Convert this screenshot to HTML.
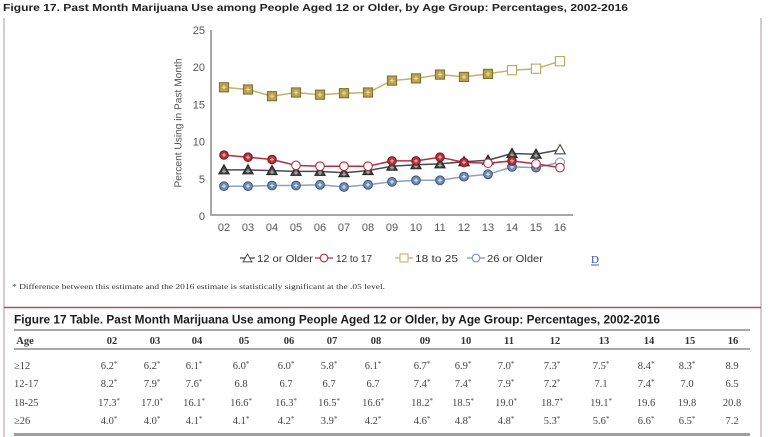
<!DOCTYPE html>
<html><head><meta charset="utf-8"><style>
html,body{margin:0;padding:0;background:#fff;}
svg{display:block;}
.t{font-family:"Liberation Sans",Arial,sans-serif;}
.s{font-family:"Liberation Serif","Times New Roman",serif;}
</style></head><body>
<svg width="768" height="437" viewBox="0 0 768 437" xmlns="http://www.w3.org/2000/svg">
<defs>
<g id="triF"><path d="M0,-5.2L5.2,4L-5.2,4Z" fill="#4a4a4a" stroke="#222" stroke-width="1"/><path d="M-2,1.5H2M0,-0.8V3.5" stroke="#b8b8b8" stroke-width="1"/></g>
<g id="triO"><path d="M0,-5.2L5.2,4L-5.2,4Z" fill="#fff" stroke="#444" stroke-width="1.1"/></g>
<g id="rF"><circle r="4.3" fill="#b3303e" stroke="#7a1822" stroke-width="1"/><path d="M-2,0H2M0,-2V2" stroke="#f0b4b4" stroke-width="1"/></g>
<g id="rO"><circle r="4.3" fill="#fff" stroke="#b3303e" stroke-width="1.1"/></g>
<g id="yF"><rect x="-4.6" y="-4.6" width="9.2" height="9.2" fill="#b9a24e" stroke="#7e6a28" stroke-width="1"/><path d="M-2.2,0H2.2M0,-2.2V2.2" stroke="#e8dca0" stroke-width="1.1"/></g>
<g id="yO"><rect x="-4.6" y="-4.6" width="9.2" height="9.2" fill="#fff" stroke="#b8a660" stroke-width="1.1"/></g>
<g id="bF"><circle r="4.4" fill="#6a88b0" stroke="#3e5a80" stroke-width="1"/><path d="M-2.2,0H2.2M0,-2.2V2.2" stroke="#d4e0f0" stroke-width="1.1"/></g>
<g id="bO"><circle r="4.4" fill="#fff" stroke="#7a94b8" stroke-width="1.1"/></g>
</defs>

<!-- frame -->
<line x1="4" y1="18" x2="4" y2="437" stroke="#c9b9b9" stroke-width="1.5"/>
<line x1="761" y1="18" x2="761" y2="437" stroke="#c9b9b9" stroke-width="1.5"/>
<line x1="4" y1="307.5" x2="761" y2="307.5" stroke="#a05858" stroke-width="1.6"/>

<!-- chart title -->
<text class="t" x="3" y="11" font-size="10.5" font-weight="bold" fill="#222" textLength="625" lengthAdjust="spacingAndGlyphs">Figure 17. Past Month Marijuana Use among People Aged 12 or Older, by Age Group: Percentages, 2002-2016</text>

<!-- axes -->
<line x1="211" y1="30" x2="211" y2="215.5" stroke="#8a8a8a" stroke-width="1.5"/>
<line x1="210.3" y1="215" x2="573" y2="215" stroke="#8a8a8a" stroke-width="1.5"/>
<g class="t" font-size="11" fill="#555" text-anchor="end">
<text x="205" y="34">25</text>
<text x="205" y="71">20</text>
<text x="205" y="108.5">15</text>
<text x="205" y="145.5">10</text>
<text x="205" y="183">5</text>
<text x="205" y="220">0</text>
</g>
<text class="t" font-size="10.5" fill="#555" text-anchor="middle" transform="translate(181.5,123) rotate(-90)" textLength="129" lengthAdjust="spacingAndGlyphs">Percent Using in Past Month</text>
<g class="t" font-size="11" fill="#555" text-anchor="middle">
<text x="224" y="231">02</text><text x="248" y="231">03</text><text x="272" y="231">04</text><text x="296" y="231">05</text><text x="320" y="231">06</text><text x="344" y="231">07</text><text x="368" y="231">08</text><text x="392" y="231">09</text><text x="416" y="231">10</text><text x="440" y="231">11</text><text x="464" y="231">12</text><text x="488" y="231">13</text><text x="512" y="231">14</text><text x="536" y="231">15</text><text x="560" y="231">16</text>
</g>

<!-- series lines -->
<polyline fill="none" stroke="#4a4a4a" stroke-width="1.5" points="224,169.9 248,169.9 272,170.6 296,171.4 320,171.4 344,172.8 368,170.6 392,166.2 416,164.7 440,163.9 464,161.7 488,160.2 512,153.5 536,154.2 560,149.8"/>
<polyline fill="none" stroke="#8aa0c0" stroke-width="1.5" points="224,186.2 248,186.2 272,185.5 296,185.5 320,184.8 344,187.0 368,184.8 392,181.8 416,180.3 440,180.3 464,176.6 488,174.3 512,166.9 536,167.6 560,162.4"/>
<polyline fill="none" stroke="#c4b070" stroke-width="1.5" points="224,87.3 248,89.5 272,96.2 296,92.5 320,94.7 344,93.2 368,92.5 392,80.6 416,78.4 440,74.6 464,76.9 488,73.9 512,70.2 536,68.7 560,61.2"/>
<polyline fill="none" stroke="#b33040" stroke-width="1.5" points="224,155.0 248,157.2 272,159.5 296,165.4 320,166.2 344,166.2 368,166.2 392,160.9 416,160.9 440,157.2 464,162.4 488,163.2 512,160.9 536,163.9 560,167.6"/>

<!-- markers: 12 or older -->
<use href="#triF" x="224" y="169.9"/><use href="#triF" x="248" y="169.9"/><use href="#triF" x="272" y="170.6"/><use href="#triF" x="296" y="171.4"/><use href="#triF" x="320" y="171.4"/><use href="#triF" x="344" y="172.8"/><use href="#triF" x="368" y="170.6"/><use href="#triF" x="392" y="166.2"/><use href="#triF" x="416" y="164.7"/><use href="#triF" x="440" y="163.9"/><use href="#triF" x="464" y="161.7"/><use href="#triF" x="488" y="160.2"/><use href="#triF" x="512" y="153.5"/><use href="#triF" x="536" y="154.2"/><use href="#triO" x="560" y="149.8"/>
<!-- 26 or older -->
<use href="#bF" x="224" y="186.2"/><use href="#bF" x="248" y="186.2"/><use href="#bF" x="272" y="185.5"/><use href="#bF" x="296" y="185.5"/><use href="#bF" x="320" y="184.8"/><use href="#bF" x="344" y="187.0"/><use href="#bF" x="368" y="184.8"/><use href="#bF" x="392" y="181.8"/><use href="#bF" x="416" y="180.3"/><use href="#bF" x="440" y="180.3"/><use href="#bF" x="464" y="176.6"/><use href="#bF" x="488" y="174.3"/><use href="#bF" x="512" y="166.9"/><use href="#bF" x="536" y="167.6"/><use href="#bO" x="560" y="162.4"/>
<!-- 18 to 25 -->
<use href="#yF" x="224" y="87.3"/><use href="#yF" x="248" y="89.5"/><use href="#yF" x="272" y="96.2"/><use href="#yF" x="296" y="92.5"/><use href="#yF" x="320" y="94.7"/><use href="#yF" x="344" y="93.2"/><use href="#yF" x="368" y="92.5"/><use href="#yF" x="392" y="80.6"/><use href="#yF" x="416" y="78.4"/><use href="#yF" x="440" y="74.6"/><use href="#yF" x="464" y="76.9"/><use href="#yF" x="488" y="73.9"/><use href="#yO" x="512" y="70.2"/><use href="#yO" x="536" y="68.7"/><use href="#yO" x="560" y="61.2"/>
<!-- 12 to 17 -->
<use href="#rF" x="224" y="155.0"/><use href="#rF" x="248" y="157.2"/><use href="#rF" x="272" y="159.5"/><use href="#rO" x="296" y="165.4"/><use href="#rO" x="320" y="166.2"/><use href="#rO" x="344" y="166.2"/><use href="#rO" x="368" y="166.2"/><use href="#rF" x="392" y="160.9"/><use href="#rF" x="416" y="160.9"/><use href="#rF" x="440" y="157.2"/><use href="#rF" x="464" y="162.4"/><use href="#rO" x="488" y="163.2"/><use href="#rF" x="512" y="160.9"/><use href="#rO" x="536" y="163.9"/><use href="#rO" x="560" y="167.6"/>

<!-- legend -->
<line x1="240" y1="258" x2="255" y2="258" stroke="#444" stroke-width="1.3"/>
<g transform="translate(247.5,258.5) scale(0.85)"><path d="M0,-5.2L5.2,4L-5.2,4Z" fill="#fff" stroke="#444" stroke-width="1.1"/></g>
<text class="t" x="257" y="262" font-size="10.5" fill="#333" textLength="56" lengthAdjust="spacingAndGlyphs">12 or Older</text>
<line x1="315" y1="258" x2="333" y2="258" stroke="#b33040" stroke-width="1.3"/>
<circle cx="324" cy="258" r="3.8" fill="#fff" stroke="#b33040" stroke-width="1.1"/>
<text class="t" x="336" y="262" font-size="10.5" fill="#333" textLength="36" lengthAdjust="spacingAndGlyphs">12 to 17</text>
<line x1="395" y1="258" x2="413" y2="258" stroke="#c4b070" stroke-width="1.3"/>
<rect x="400" y="254" width="8" height="8" fill="#fff" stroke="#c4b070" stroke-width="1.1"/>
<text class="t" x="415" y="262" font-size="10.5" fill="#333" textLength="43" lengthAdjust="spacingAndGlyphs">18 to 25</text>
<line x1="467" y1="258" x2="485" y2="258" stroke="#7a94b8" stroke-width="1.3"/>
<circle cx="476" cy="258" r="3.8" fill="#fff" stroke="#7a94b8" stroke-width="1.1"/>
<text class="t" x="487" y="262" font-size="10.5" fill="#333" textLength="56" lengthAdjust="spacingAndGlyphs">26 or Older</text>
<text class="s" x="591" y="263" font-size="11" fill="#3340b0">D</text>
<line x1="591" y1="265" x2="599" y2="265" stroke="#3340b0" stroke-width="0.9"/>

<!-- footnote -->
<text class="s" x="12" y="289" font-size="7.5" fill="#333" textLength="373" lengthAdjust="spacingAndGlyphs">* Difference between this estimate and the 2016 estimate is statistically significant at the .05 level.</text>

<!-- table title -->
<text class="t" x="14" y="323.5" font-size="12" font-weight="bold" fill="#1a1a1a" textLength="646" lengthAdjust="spacingAndGlyphs">Figure 17 Table. Past Month Marijuana Use among People Aged 12 or Older, by Age Group: Percentages, 2002-2016</text>

<!-- table lines -->
<line x1="14" y1="330" x2="750" y2="330" stroke="#8c8c8c" stroke-width="1.5"/>
<line x1="14" y1="349" x2="750" y2="349" stroke="#8c8c8c" stroke-width="1.5"/>
<line x1="14" y1="434.5" x2="750" y2="434.5" stroke="#a0a0a0" stroke-width="3"/>

<!-- table header -->
<g class="s" font-size="10.5" font-weight="bold" fill="#333" text-anchor="middle">
<text x="25" y="344">Age</text>
<text x="112" y="344">02</text><text x="155" y="344">03</text><text x="197" y="344">04</text><text x="244" y="344">05</text><text x="289" y="344">06</text><text x="332" y="344">07</text><text x="376" y="344">08</text><text x="425" y="344">09</text><text x="466" y="344">10</text><text x="509" y="344">11</text><text x="555" y="344">12</text><text x="604" y="344">13</text><text x="649" y="344">14</text><text x="690" y="344">15</text><text x="733" y="344">16</text>
</g>

<g class="s" font-size="10.5" fill="#444">
<text x="14" y="369">≥12</text>
<text x="14" y="387">12-17</text>
<text x="14" y="406">18-25</text>
<text x="14" y="424">≥26</text>
</g>

<g class="s" font-size="10.5" fill="#444" text-anchor="middle">
<!-- row >=12 -->
<text x="109" y="369">6.2<tspan font-size="7" dy="-3">*</tspan></text>
<text x="152" y="369">6.2<tspan font-size="7" dy="-3">*</tspan></text>
<text x="194" y="369">6.1<tspan font-size="7" dy="-3">*</tspan></text>
<text x="241" y="369">6.0<tspan font-size="7" dy="-3">*</tspan></text>
<text x="286" y="369">6.0<tspan font-size="7" dy="-3">*</tspan></text>
<text x="329" y="369">5.8<tspan font-size="7" dy="-3">*</tspan></text>
<text x="373" y="369">6.1<tspan font-size="7" dy="-3">*</tspan></text>
<text x="422" y="369">6.7<tspan font-size="7" dy="-3">*</tspan></text>
<text x="463" y="369">6.9<tspan font-size="7" dy="-3">*</tspan></text>
<text x="506" y="369">7.0<tspan font-size="7" dy="-3">*</tspan></text>
<text x="552" y="369">7.3<tspan font-size="7" dy="-3">*</tspan></text>
<text x="601" y="369">7.5<tspan font-size="7" dy="-3">*</tspan></text>
<text x="646" y="369">8.4<tspan font-size="7" dy="-3">*</tspan></text>
<text x="687" y="369">8.3<tspan font-size="7" dy="-3">*</tspan></text>
<text x="732" y="369">8.9</text>
<!-- row 12-17 -->
<text x="109" y="387">8.2<tspan font-size="7" dy="-3">*</tspan></text>
<text x="152" y="387">7.9<tspan font-size="7" dy="-3">*</tspan></text>
<text x="194" y="387">7.6<tspan font-size="7" dy="-3">*</tspan></text>
<text x="241" y="387">6.8</text>
<text x="286" y="387">6.7</text>
<text x="329" y="387">6.7</text>
<text x="373" y="387">6.7</text>
<text x="422" y="387">7.4<tspan font-size="7" dy="-3">*</tspan></text>
<text x="463" y="387">7.4<tspan font-size="7" dy="-3">*</tspan></text>
<text x="506" y="387">7.9<tspan font-size="7" dy="-3">*</tspan></text>
<text x="552" y="387">7.2<tspan font-size="7" dy="-3">*</tspan></text>
<text x="601" y="387">7.1</text>
<text x="646" y="387">7.4<tspan font-size="7" dy="-3">*</tspan></text>
<text x="687" y="387">7.0</text>
<text x="732" y="387">6.5</text>
<!-- row 18-25 -->
<text x="109" y="406">17.3<tspan font-size="7" dy="-3">*</tspan></text>
<text x="152" y="406">17.0<tspan font-size="7" dy="-3">*</tspan></text>
<text x="194" y="406">16.1<tspan font-size="7" dy="-3">*</tspan></text>
<text x="241" y="406">16.6<tspan font-size="7" dy="-3">*</tspan></text>
<text x="286" y="406">16.3<tspan font-size="7" dy="-3">*</tspan></text>
<text x="329" y="406">16.5<tspan font-size="7" dy="-3">*</tspan></text>
<text x="373" y="406">16.6<tspan font-size="7" dy="-3">*</tspan></text>
<text x="422" y="406">18.2<tspan font-size="7" dy="-3">*</tspan></text>
<text x="463" y="406">18.5<tspan font-size="7" dy="-3">*</tspan></text>
<text x="506" y="406">19.0<tspan font-size="7" dy="-3">*</tspan></text>
<text x="552" y="406">18.7<tspan font-size="7" dy="-3">*</tspan></text>
<text x="601" y="406">19.1<tspan font-size="7" dy="-3">*</tspan></text>
<text x="646" y="406">19.6</text>
<text x="687" y="406">19.8</text>
<text x="732" y="406">20.8</text>
<!-- row >=26 -->
<text x="109" y="424">4.0<tspan font-size="7" dy="-3">*</tspan></text>
<text x="152" y="424">4.0<tspan font-size="7" dy="-3">*</tspan></text>
<text x="194" y="424">4.1<tspan font-size="7" dy="-3">*</tspan></text>
<text x="241" y="424">4.1<tspan font-size="7" dy="-3">*</tspan></text>
<text x="286" y="424">4.2<tspan font-size="7" dy="-3">*</tspan></text>
<text x="329" y="424">3.9<tspan font-size="7" dy="-3">*</tspan></text>
<text x="373" y="424">4.2<tspan font-size="7" dy="-3">*</tspan></text>
<text x="422" y="424">4.6<tspan font-size="7" dy="-3">*</tspan></text>
<text x="463" y="424">4.8<tspan font-size="7" dy="-3">*</tspan></text>
<text x="506" y="424">4.8<tspan font-size="7" dy="-3">*</tspan></text>
<text x="552" y="424">5.3<tspan font-size="7" dy="-3">*</tspan></text>
<text x="601" y="424">5.6<tspan font-size="7" dy="-3">*</tspan></text>
<text x="646" y="424">6.6<tspan font-size="7" dy="-3">*</tspan></text>
<text x="687" y="424">6.5<tspan font-size="7" dy="-3">*</tspan></text>
<text x="732" y="424">7.2</text>
</g>
</svg>
</body></html>
